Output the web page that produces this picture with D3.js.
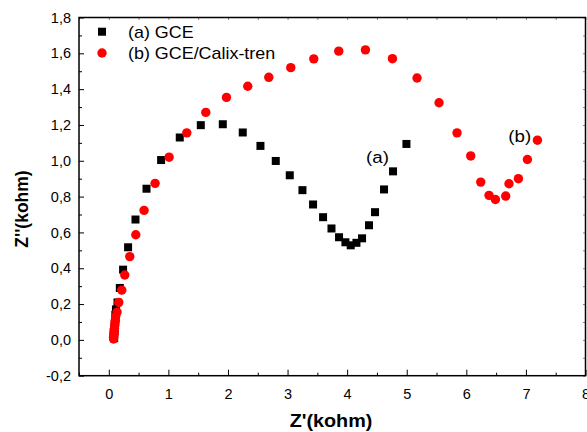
<!DOCTYPE html>
<html>
<head>
<meta charset="utf-8">
<script src="https://cdn.jsdelivr.net/npm/d3@7"></script>
<style>
  html, body { margin: 0; padding: 0; background: #fff; }
  svg { display: block; font-family: "Liberation Sans", Arial, sans-serif; }
</style>
</head>
<body>
<svg id="chart" width="587" height="432"></svg>
<script>
// ---- Data ----
const gceX = [0.09, 0.09, 0.095, 0.10, 0.10, 0.105, 0.11, 0.12, 0.146, 0.185, 0.24, 0.324, 0.448, 0.633, 0.878, 1.191, 1.544, 1.913, 2.248, 2.545, 2.802, 3.037, 3.25, 3.428, 3.596, 3.737, 3.864, 3.971, 4.06, 4.156, 4.25, 4.367, 4.468, 4.619, 4.77, 4.995];
const gceY = [0.01, 0.03, 0.05, 0.07, 0.09, 0.11, 0.14, 0.17, 0.209, 0.29, 0.392, 0.517, 0.672, 0.844, 1.004, 1.130, 1.199, 1.204, 1.158, 1.083, 0.999, 0.919, 0.836, 0.756, 0.685, 0.622, 0.573, 0.545, 0.528, 0.542, 0.567, 0.640, 0.713, 0.840, 0.941, 1.094];

const calixX = [0.08, 0.08, 0.085, 0.085, 0.09, 0.09, 0.095, 0.10, 0.105, 0.11, 0.115, 0.139, 0.168, 0.218, 0.268, 0.352, 0.453, 0.592, 0.777, 1.012, 1.309, 1.628, 1.975, 2.332, 2.685, 3.054, 3.44, 3.859, 4.307, 4.76, 5.173, 5.542, 5.844, 6.074, 6.242, 6.381, 6.488, 6.661, 6.716, 6.874, 7.025, 7.193];
const calixY = [0.005, 0.015, 0.025, 0.035, 0.045, 0.055, 0.065, 0.08, 0.095, 0.11, 0.13, 0.155, 0.209, 0.278, 0.362, 0.465, 0.587, 0.723, 0.874, 1.020, 1.156, 1.270, 1.354, 1.416, 1.466, 1.520, 1.569, 1.612, 1.619, 1.570, 1.462, 1.324, 1.156, 1.027, 0.881, 0.807, 0.784, 0.803, 0.872, 0.900, 1.007, 1.115];

const xTicks = [0, 1, 2, 3, 4, 5, 6, 7, 8];
const yTicks = [-0.2, 0, 0.2, 0.4, 0.6, 0.8, 1.0, 1.2, 1.4, 1.6, 1.8];
const seriesNames = ["(a) GCE", "(b) GCE/Calix-tren"];
const xTitle = "Z'(kohm)";
const yTitle = "Z''(kohm)";

// ---- Layout ----
const L = 79, R = 585.5, T = 17.5, B = 375.7;
const svg = d3.select("#chart");
const x = d3.scaleLinear().domain([-0.5, 8]).range([L, R]);
const y = d3.scaleLinear().domain([-0.2, 1.8]).range([B, T]);
const fmt = d => d3.format(".1f")(d).replace("\u2212", "-").replace(".", ",");

const xMinor = d3.range(-0.5, 8.01, 0.5).filter(v => Math.abs(v - Math.round(v)) > 0.01);
const yMinor = d3.range(-0.1, 1.8, 0.2);

// minor ticks (inner)
svg.append("g").attr("transform", `translate(0,${B})`)
  .call(d3.axisBottom(x).tickValues(xMinor).tickSize(-3).tickFormat(""))
  .call(g => g.select(".domain").remove());
svg.append("g").attr("transform", `translate(${L},0)`)
  .call(d3.axisLeft(y).tickValues(yMinor).tickSize(-3).tickFormat(""))
  .call(g => g.select(".domain").remove());

// top / right small ticks
svg.append("g").attr("transform", `translate(0,${T})`)
  .call(d3.axisTop(x).tickValues(d3.range(-0.5, 8.01, 0.5)).tickSize(-2.5).tickFormat(""))
  .call(g => g.select(".domain").remove())
  .call(g => g.selectAll("line").attr("stroke", "#888"));
svg.append("g").attr("transform", `translate(${R},0)`)
  .call(d3.axisRight(y).tickValues(d3.range(-0.2, 1.81, 0.1)).tickSize(-2.5).tickFormat(""))
  .call(g => g.select(".domain").remove())
  .call(g => g.selectAll("line").attr("stroke", "#888"));

// major axes
const xAxis = svg.append("g").attr("transform", `translate(0,${B})`)
  .call(d3.axisBottom(x).tickValues(xTicks).tickSize(-6).tickPadding(13).tickFormat(d3.format("d")));
xAxis.select(".domain").remove();
xAxis.selectAll("text").attr("font-size", 14.5).attr("fill", "#000")
  .attr("font-family", "Liberation Sans, Arial, sans-serif");

const yAxis = svg.append("g").attr("transform", `translate(${L},0)`)
  .call(d3.axisLeft(y).tickValues(yTicks).tickSize(-5).tickPadding(8).tickFormat(fmt));
yAxis.select(".domain").remove();
yAxis.selectAll("text").attr("font-size", 14.5).attr("fill", "#000")
  .attr("font-family", "Liberation Sans, Arial, sans-serif");

// frame
svg.append("rect").attr("x", L).attr("y", T).attr("width", R - L).attr("height", B - T)
  .attr("fill", "none").attr("stroke", "#000").attr("stroke-width", 1.5);

// data
svg.append("g").selectAll("rect").data(gceX.map((v, i) => [v, gceY[i]])).join("rect")
  .attr("x", d => x(d[0]) - 4).attr("y", d => y(d[1]) - 4)
  .attr("width", 8).attr("height", 8).attr("fill", "#000");
svg.append("g").selectAll("circle").data(calixX.map((v, i) => [v, calixY[i]])).join("circle")
  .attr("cx", d => x(d[0])).attr("cy", d => y(d[1])).attr("r", 4.7).attr("fill", "#ff0000");

// helper: horizontally stretched text
function stext(tx, ty, sx, size, str, opts = {}) {
  const t = svg.append("text")
    .attr("transform", `translate(${tx},${ty}) scale(${sx},1)`)
    .attr("font-size", size).text(str);
  if (opts.anchor) t.attr("text-anchor", opts.anchor);
  if (opts.bold) t.attr("font-weight", "bold");
  return t;
}

// legend
svg.append("rect").attr("x", 98).attr("y", 27.7).attr("width", 8).attr("height", 8).attr("fill", "#000");
svg.append("circle").attr("cx", 102).attr("cy", 53).attr("r", 4.7).attr("fill", "#ff0000");
stext(128, 37.5, 1.12, 16, seriesNames[0]);
stext(128, 59, 1.12, 16, seriesNames[1]);

// annotations
stext(377.5, 163, 1.1, 17, "(a)", { anchor: "middle" });
stext(519.7, 141.5, 1.1, 17, "(b)", { anchor: "middle" });

// axis titles
stext(331, 427, 1.1, 18, xTitle, { anchor: "middle", bold: true });
svg.append("text").attr("transform", "translate(28,209) rotate(-90)").attr("font-size", 17.5)
  .attr("font-weight", "bold").attr("text-anchor", "middle").text(yTitle);
</script>
</body>
</html>
